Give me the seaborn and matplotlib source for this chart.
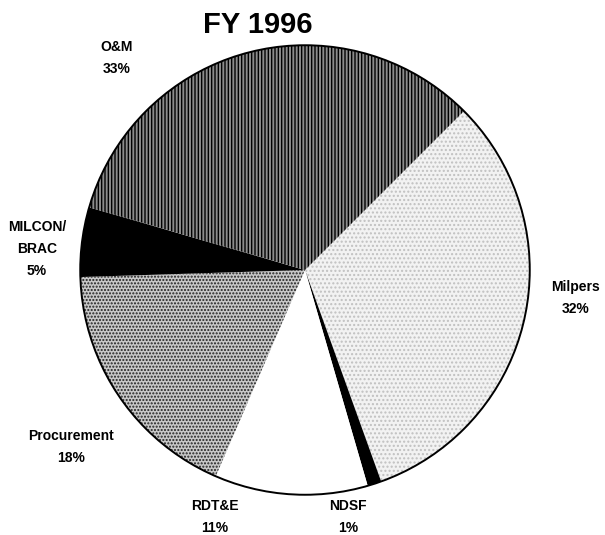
import matplotlib
matplotlib.use('Agg')
import matplotlib.pyplot as plt
from matplotlib.patches import Circle
import seaborn as sns

# budget shares, clockwise from upper right
categories = ['Milpers', 'NDSF', 'RDT&E', 'Procurement', 'MILCON/\nBRAC', 'O&M']
shares = [32, 1, 11, 18, 5, 33]
pct_labels = ['32%', '1%', '11%', '18%', '5%', '33%']
title = 'FY 1996'

# fill styles per slice (face, hatch, hatch colour)
faces = ['#f2f2f2', 'black', 'white', '#c8c8c8', 'black', '#8c8c8c']
hatches = ['....', '', '', '.....', '', '|||||']
hatch_cols = ['#c0c0c0', 'black', 'white', '#202020', 'black', 'black']

# label centres in pixels (x, y from top)
label_pos = [(576, 298), (348, 517), (215, 517), (71, 447), (37, 249), (117, 58)]

W, H = 605, 535

sns.set_theme(style='white')
plt.rcParams['font.family'] = ['Liberation Sans', 'DejaVu Sans']
plt.rcParams['text.color'] = 'black'

fig = plt.figure(figsize=(W / 100, H / 100), dpi=100)
cx, cy, r = 305, 270, 227
ax = fig.add_axes([(cx - r) / W, (H - cy - r) / H, 2 * r / W, 2 * r / H])

wedges, _ = ax.pie(shares, startangle=45, counterclock=False,
                   wedgeprops=dict(linewidth=0))
for w, fc, ht, hc in zip(wedges, faces, hatches, hatch_cols):
    w.set_facecolor(fc)
    w.set_edgecolor(hc)
    w.set_hatch(ht)
ax.add_patch(Circle((0, 0), 1, fill=False, edgecolor='black', linewidth=1.4))
ax.set_xlim(-1.01, 1.01)
ax.set_ylim(-1.01, 1.01)
ax.set_aspect('equal')
ax.axis('off')

fig.text(258 / W, 1 - 25 / H, title, ha='center', va='center',
         fontsize=21, fontweight='bold', color='black')
for cat, pct, (x, y) in zip(categories, pct_labels, label_pos):
    fig.text(x / W, 1 - y / H, f'{cat}\n{pct}', ha='center', va='center',
             fontsize=10, fontweight='bold', linespacing=1.75, color='black')

fig.savefig('out.png', dpi=100)
